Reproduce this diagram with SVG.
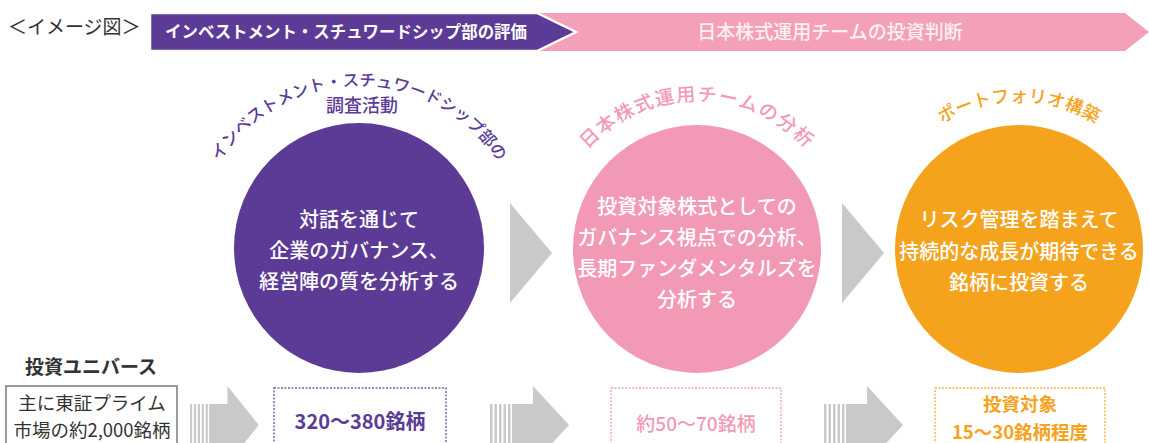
<svg xmlns="http://www.w3.org/2000/svg" xmlns:xlink="http://www.w3.org/1999/xlink" width="1149" height="443" viewBox="0 0 1149 443">
<style>
text{font-family:'Noto Sans CJK JP','Noto Sans',sans-serif;}
.cw{fill:#ffffff;font-size:20px;font-weight:500;text-anchor:middle;}
.pu{fill:#5b3b96;}
.pk{fill:#f29ab5;}
.or{fill:#f5a31c;}
.gr{fill:#c8c9ca;}
.box{fill:#ffffff;stroke-width:1.5;}
.dot{stroke-dasharray:2 1.5;}
</style>
<defs>
<path id="arcPu" d="M 193 252 A 166 166 0 0 1 525 252"/>
<path id="arcPk" d="M 549 249 A 148 148 0 0 1 845 249"/>
<path id="arcOr" d="M 872 249 A 147 147 0 0 1 1166 249"/>
<g id="arrow">
<rect x="0" y="404" width="2.5" height="42" class="gr"/>
<rect x="4.5" y="404" width="2.5" height="42" class="gr"/>
<rect x="9" y="404" width="2.5" height="42" class="gr"/>
<rect x="13.5" y="404" width="2.5" height="42" class="gr"/>
<rect x="18" y="404" width="2.5" height="42" class="gr"/>
<rect x="22" y="404" width="22" height="42" class="gr"/>
<polygon points="43,386 79,425 43,464" class="gr"/>
</g>
</defs>

<g id="banner">
<text x="8" y="34" font-size="19" fill="#333333">＜イメージ図＞</text>
<polygon points="540,13 1125,13 1149,32 1125,51 540,51" fill="#f4a0b9"/>
<polygon points="150,13 537,13 576,32 537,51 150,51" fill="#5b3b96" stroke="#ffffff" stroke-width="2.5" stroke-linejoin="miter"/>
<text x="346" y="38" font-size="16.5" font-weight="700" fill="#ffffff" text-anchor="middle" textLength="362" lengthAdjust="spacingAndGlyphs">インベストメント・スチュワードシップ部の評価</text>
<text x="830" y="39" font-size="19" font-weight="500" fill="#fdf0f4" text-anchor="middle">日本株式運用チームの投資判断</text>
</g>

<g id="node-purple">
<text font-size="16.5" font-weight="500" class="pu"><textPath href="#arcPu" startOffset="50%" text-anchor="middle">インベストメント・スチュワードシップ部の</textPath></text>
<text x="362" y="112" font-size="18" font-weight="500" text-anchor="middle" class="pu">調査活動</text>
<circle cx="359" cy="248" r="125" class="pu"/>
<text class="cw" x="359" y="227">対話を通じて</text>
<text class="cw" x="359" y="258">企業のガバナンス、</text>
<text class="cw" x="359" y="289">経営陣の質を分析する</text>
</g>

<g id="node-pink">
<text font-size="19" font-weight="500" letter-spacing="1.6" class="pk"><textPath href="#arcPk" startOffset="50%" text-anchor="middle">日本株式運用チームの分析</textPath></text>
<circle cx="697" cy="249" r="124" class="pk"/>
<text class="cw" x="697" y="214" font-size="19">投資対象株式としての</text>
<text class="cw" x="697" y="245" font-size="19">ガバナンス視点での分析、</text>
<text class="cw" x="697" y="276" font-size="19">長期ファンダメンタルズを</text>
<text class="cw" x="697" y="307" font-size="19">分析する</text>
</g>

<g id="node-orange">
<text font-size="18" font-weight="500" class="or"><textPath href="#arcOr" startOffset="50%" text-anchor="middle">ポートフォリオ構築</textPath></text>
<circle cx="1019" cy="249" r="124" class="or"/>
<text class="cw" x="1019" y="227">リスク管理を踏まえて</text>
<text class="cw" x="1019" y="259">持続的な成長が期待できる</text>
<text class="cw" x="1019" y="290">銘柄に投資する</text>
</g>

<g id="node-universe">
<text x="91" y="374" font-size="19" font-weight="700" fill="#333333" text-anchor="middle">投資ユニバース</text>
<rect x="6" y="386" width="171" height="70" class="box" stroke="#7a7a7a"/>
<text x="92" y="410" font-size="18.5" fill="#333333" text-anchor="middle">主に東証プライム</text>
<text x="92" y="437" font-size="18.5" fill="#333333" text-anchor="middle">市場の約2,000銘柄</text>
</g>

<g id="node-box2">
<rect x="274" y="388" width="172" height="70" class="box dot" stroke="#7b5fb3"/>
<text x="360" y="429" font-size="20" font-weight="700" text-anchor="middle" class="pu">320〜380銘柄</text>
</g>

<g id="node-box3">
<rect x="611" y="388" width="170" height="70" class="box dot" stroke="#f4a6bf"/>
<text x="696" y="431" font-size="19" font-weight="500" text-anchor="middle" class="pk">約50〜70銘柄</text>
</g>

<g id="node-box4">
<rect x="935" y="388" width="170" height="70" class="box dot" stroke="#f7b449"/>
<text x="1020" y="411" font-size="18.5" font-weight="700" text-anchor="middle" class="or">投資対象</text>
<text x="1020" y="439" font-size="18.5" font-weight="700" text-anchor="middle" class="or">15〜30銘柄程度</text>
</g>

<g id="connectors">
<polygon points="510,203 552,253 510,303" class="gr"/>
<polygon points="842,203 884,253 842,303" class="gr"/>
<use href="#arrow" transform="translate(190,0) scale(0.87,1)"/>
<use href="#arrow" transform="translate(490,0)"/>
<use href="#arrow" transform="translate(824,0)"/>
</g>
</svg>
